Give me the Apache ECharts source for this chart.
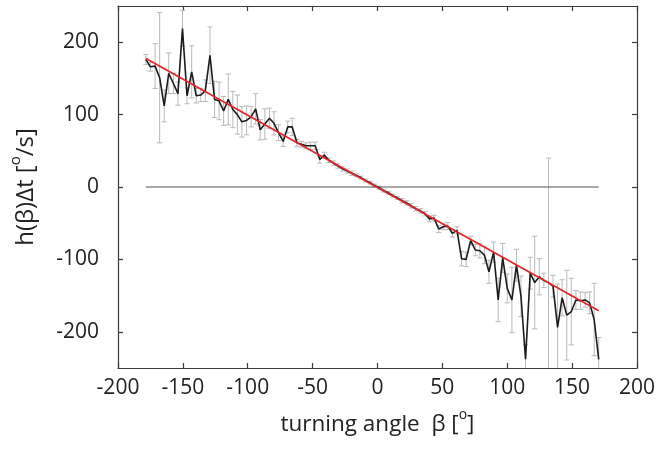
<!DOCTYPE html>
<html><head><meta charset="utf-8">
<script src="https://cdn.jsdelivr.net/npm/echarts@6/dist/echarts.min.js"></script>
<style>html,body{margin:0;padding:0;background:#fff}#c{width:658px;height:451px}</style>
</head><body><div id="c"></div>
<script>
// turning angle beta (deg), bin centres
const beta = [-178.5,-175.0,-171.4,-167.9,-164.4,-160.9,-157.3,-153.8,-150.3,-146.8,
-143.2,-139.7,-136.2,-132.7,-129.1,-125.6,-122.1,-118.6,-115.0,-111.5,
-108.0,-104.5,-100.9,-97.4,-93.9,-90.4,-86.8,-83.3,-79.8,-76.3,
-72.7,-69.2,-65.7,-62.1,-58.6,-55.1,-51.6,-48.0,-44.5,-41.0,
-37.5,-33.9,-30.4,-26.9,-23.4,-19.8,-16.3,-12.8,-9.3,-5.7,
-2.2,1.3,4.8,8.4,11.9,15.4,18.9,22.5,26.0,29.5,
33.1,36.6,40.1,43.6,47.2,50.7,54.2,57.7,61.3,64.8,
68.3,71.8,75.4,78.9,82.4,85.9,89.5,93.0,96.5,100.0,
103.6,107.1,110.6,114.1,117.7,121.2,124.7,128.2,131.8,135.3,
138.8,142.3,145.9,149.4,152.9,156.4,160.0,163.5,167.0,170.5];
// h(beta)*dt values (deg/s)
const hVal = [176,166,167,151,112,157,143,129,219,126,
159,126,127,133,182,121,119,105,121,107,
100,90,92,97,108,79,87,95,88,75,
63,83,83,61,59,57,57,57,38,44,
37,33,29,25,22,19,16,13,9,6,
2,-1,-5,-8,-12,-15,-19,-22,-26,-30,
-33,-37,-44,-43,-58,-55,-54,-64,-60,-99,
-100,-74,-87,-88,-94,-117,-90,-156,-98,-140,
-156,-108,-151,-238,-119,-132,-124,-129,-132,-137,
-194,-153,-177,-172,-156,-157,-156,-160,-183,-238];
// half length of error bars
const hErr = [7,6,31,90,22,28,14,16,25,11,
36,10,9,15,39,25,26,20,35,25,
27,21,20,14,21,14,21,14,16,11,
7,8,12,5,4,4,5,5,5,4,
3,3,3,3,3,3,2,2,2,2,
2,2,2,2,2,2,3,3,3,3,
3,3,4,4,5,4,5,5,5,10,
10,6,8,10,12,16,14,30,20,20,
45,22,28,20,22,64,25,10,172,15,
60,25,62,46,13,12,10,15,50,30];
// linear fit line end points
const fitX = [-178.5, 170.5];
const fitY = [177.5, -171];
// zero reference line
const zeroX = [-178.5, 170.5];
const zeroY = [0, 0];
// tick values
const xTickVals = [-200,-150,-100,-50,0,50,100,150,200];
const yTickVals = [-200,-100,0,100,200];

const FONT = '"Open Sans", "Noto Sans", sans-serif';
const AX = '#3a3a3a';
const chart = echarts.init(document.getElementById('c'), null, {renderer: 'canvas'});

const errData = beta.map((b, i) => [b, hVal[i] - hErr[i], hVal[i] + hErr[i]]);
const lineData = beta.map((b, i) => [b, hVal[i]]);
const fitData = fitX.map((x, i) => [x, fitY[i]]);
const zeroData = zeroX.map((x, i) => [x, zeroY[i]]);

function baseX(pos, showLabel) {
  return {
    type: 'value', position: pos, min: -200, max: 200, interval: 50,
    axisLine: {show: true, onZero: false, lineStyle: {color: AX, width: 1.2}},
    axisTick: {show: true, inside: true, length: 5, lineStyle: {color: AX, width: 1.2}},
    axisLabel: {show: showLabel, margin: 10, fontSize: 21, fontFamily: FONT, color: '#222',
      customValues: xTickVals},
    splitLine: {show: false}
  };
}
function baseY(pos, showLabel) {
  return {
    type: 'value', position: pos, min: -250, max: 250, interval: 50,
    axisLine: {show: true, onZero: false, lineStyle: {color: AX, width: 1.2}},
    axisTick: {show: true, inside: true, length: 5, lineStyle: {color: AX, width: 1.2}, customValues: yTickVals},
    axisLabel: {show: showLabel, margin: 19, fontSize: 21, fontFamily: FONT, color: '#222', customValues: yTickVals},
    splitLine: {show: false}
  };
}

const xb = baseX('bottom', true);
xb.name = '{a|turning angle  β [}{s|o}{a|]}';
xb.nameLocation = 'middle';
xb.nameGap = 40;
xb.nameTextStyle = {rich: {
  a: {fontSize: 22.5, fontFamily: FONT, color: '#222', lineHeight: 28, verticalAlign: 'bottom'},
  s: {fontSize: 14, fontFamily: FONT, color: '#222', lineHeight: 28, verticalAlign: 'top'}
}};
const yl = baseY('left', true);
yl.name = '{a|h(β)Δt [}{s|o}{a|/s]}';
yl.nameLocation = 'middle';
yl.nameRotate = 90;
yl.nameGap = 80;
yl.nameTextStyle = {rich: {
  a: {fontSize: 24, fontFamily: FONT, color: '#222', lineHeight: 30, verticalAlign: 'bottom'},
  s: {fontSize: 15, fontFamily: FONT, color: '#222', lineHeight: 30, verticalAlign: 'top'}
}};

const option = {
  animation: false,
  backgroundColor: '#fff',
  grid: {left: 118, right: 19, top: 6, bottom: 83},
  xAxis: [xb, baseX('top', false)],
  yAxis: [yl, baseY('right', false)],
  series: [
    {
      type: 'custom', xAxisIndex: 0, yAxisIndex: 0, z: 1,
      encode: {x: 0, y: [1, 2]},
      data: errData,
      renderItem: function (params, api) {
        const cs = params.coordSys;
        const top = cs.y, bot = cs.y + cs.height;
        const x = api.value(0);
        const pHi = api.coord([x, api.value(2)]);
        const pLo = api.coord([x, api.value(1)]);
        const y1 = Math.max(top, pHi[1]);
        const y2 = Math.min(bot, pLo[1]);
        const st = {stroke: '#b9b9b9', lineWidth: 1};
        const w = 2.6;
        const ch = [{type: 'line', shape: {x1: pHi[0], y1: y1, x2: pHi[0], y2: y2}, style: st}];
        if (pHi[1] >= top) ch.push({type: 'line', shape: {x1: pHi[0] - w, y1: pHi[1], x2: pHi[0] + w, y2: pHi[1]}, style: st});
        if (pLo[1] <= bot) ch.push({type: 'line', shape: {x1: pLo[0] - w, y1: pLo[1], x2: pLo[0] + w, y2: pLo[1]}, style: st});
        return {type: 'group', children: ch};
      }
    },
    {
      type: 'line', data: zeroData, showSymbol: false, symbol: 'none', z: 2,
      lineStyle: {color: '#555', width: 1}
    },
    {
      type: 'line', data: lineData, showSymbol: false, symbol: 'none', z: 3,
      lineStyle: {color: '#1c1c1c', width: 1.6}
    },
    {
      type: 'line', data: fitData, showSymbol: false, symbol: 'none', z: 4,
      lineStyle: {color: '#e0262b', width: 1.7}
    }
  ]
};
chart.setOption(option);
</script>
</body></html>
